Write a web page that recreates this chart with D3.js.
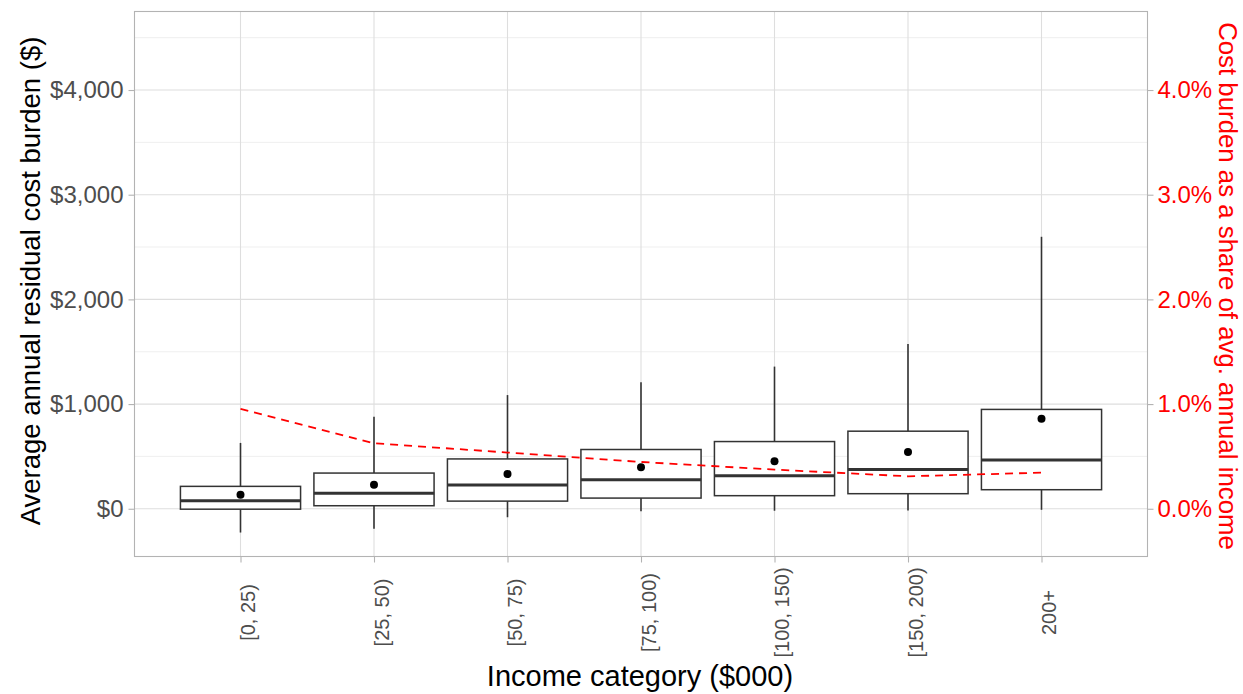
<!DOCTYPE html>
<html>
<head>
<meta charset="utf-8">
<script src="https://cdn.jsdelivr.net/npm/d3@7"></script>
<style>
  html, body { margin: 0; padding: 0; background: #fff; }
  svg { display: block; font-family: "Liberation Sans", Arial, sans-serif; }
</style>
</head>
<body>
<svg id="chart" width="1243" height="694"></svg>
<script>
const categories = ["[0, 25)", "[25, 50)", "[50, 75)", "[75, 100)", "[100, 150)", "[150, 200)", "200+"];
const whiskerLow  = [-227, -192, -81, -23, -19, -16, -10];
const q1          = [-4, 29, 73, 102, 125, 144, 182];
const medianVals  = [77, 147, 226, 278, 316, 374, 466];
const q3          = [214, 341, 476, 566, 642, 741, 949];
const whiskerHigh = [629, 878, 1086, 1208, 1358, 1575, 2598];
const meanVals    = [134, 230, 332, 396, 453, 543, 859];
const sharePct    = [0.955, 0.626, 0.537, 0.447, 0.374, 0.310, 0.345];
const leftTicks   = [0, 1000, 2000, 3000, 4000];
const minorTicks  = [500, 1500, 2500, 3500, 4500];
const rightTicks  = [0, 1, 2, 3, 4];

const svg = d3.select("#chart");
const panel = {left: 134.5, right: 1147.5, top: 11.5, bottom: 556.5};

const x = d3.scaleLinear().domain([0.206, 7.794]).range([panel.left, panel.right]);
const y = d3.scaleLinear().domain([-456, 4750]).range([panel.bottom, panel.top]);
const yR = d3.scaleLinear().domain([-0.456, 4.75]).range([panel.bottom, panel.top]);

const rows = categories.map((c, i) => ({
  c, i: i + 1, lo: whiskerLow[i], q1: q1[i], med: medianVals[i], q3: q3[i],
  hi: whiskerHigh[i], mean: meanVals[i], share: sharePct[i]
}));

// grid
const g = svg.append("g");
g.selectAll(".minor").data(minorTicks).join("line")
  .attr("x1", panel.left).attr("x2", panel.right)
  .attr("y1", d => y(d)).attr("y2", d => y(d))
  .attr("stroke", "#EBEBEB").attr("stroke-width", 0.8);
g.selectAll(".major").data(leftTicks).join("line")
  .attr("x1", panel.left).attr("x2", panel.right)
  .attr("y1", d => y(d)).attr("y2", d => y(d))
  .attr("stroke", "#DEDEDE").attr("stroke-width", 1.1);
g.selectAll(".vmajor").data(rows).join("line")
  .attr("x1", d => x(d.i)).attr("x2", d => x(d.i))
  .attr("y1", panel.top).attr("y2", panel.bottom)
  .attr("stroke", "#DEDEDE").attr("stroke-width", 1.1);

// boxes
const boxW = 0.9;
const bx = svg.append("g");
bx.selectAll(".wh").data(rows).join("line")
  .attr("x1", d => x(d.i)).attr("x2", d => x(d.i))
  .attr("y1", d => y(d.hi)).attr("y2", d => y(d.q3))
  .attr("stroke", "#333333").attr("stroke-width", 1.6);
bx.selectAll(".wl").data(rows).join("line")
  .attr("x1", d => x(d.i)).attr("x2", d => x(d.i))
  .attr("y1", d => y(d.q1)).attr("y2", d => y(d.lo))
  .attr("stroke", "#333333").attr("stroke-width", 1.6);
bx.selectAll(".box").data(rows).join("rect")
  .attr("x", d => x(d.i - boxW / 2)).attr("width", d => x(d.i + boxW / 2) - x(d.i - boxW / 2))
  .attr("y", d => y(d.q3)).attr("height", d => y(d.q1) - y(d.q3))
  .attr("fill", "#fff").attr("stroke", "#333333").attr("stroke-width", 1.5);
bx.selectAll(".med").data(rows).join("line")
  .attr("x1", d => x(d.i - boxW / 2)).attr("x2", d => x(d.i + boxW / 2))
  .attr("y1", d => y(d.med)).attr("y2", d => y(d.med))
  .attr("stroke", "#333333").attr("stroke-width", 3);
bx.selectAll(".mean").data(rows).join("circle")
  .attr("cx", d => x(d.i)).attr("cy", d => y(d.mean)).attr("r", 4)
  .attr("fill", "#000");

// red dashed share line
const line = d3.line().x(d => x(d.i)).y(d => yR(d.share));
svg.append("path").datum(rows).attr("d", line)
  .attr("fill", "none").attr("stroke", "#FF0000").attr("stroke-width", 1.8)
  .attr("stroke-dasharray", "8,6");

// panel border
svg.append("rect").attr("x", panel.left).attr("y", panel.top)
  .attr("width", panel.right - panel.left).attr("height", panel.bottom - panel.top)
  .attr("fill", "none").attr("stroke", "#B3B3B3").attr("stroke-width", 1.1);

// left axis
const yAxis = d3.axisLeft(y).tickValues(leftTicks).tickSize(6).tickPadding(5)
  .tickFormat(d => (d < 0 ? "-$" : "$") + d3.format(",")(Math.abs(d)));
const ga = svg.append("g").attr("transform", `translate(${panel.left},0)`).call(yAxis);
ga.select(".domain").remove();
ga.selectAll(".tick line").attr("stroke", "#B3B3B3").attr("stroke-width", 1.1);
ga.selectAll(".tick text").attr("fill", "#4D4D4D").style("font-size", "24px")
  .attr("font-family", "Liberation Sans, Arial, sans-serif");

// right axis
const yAxisR = d3.axisRight(yR).tickValues(rightTicks).tickSize(6).tickPadding(4)
  .tickFormat(d => d3.format(".1f")(d) + "%");
const gr = svg.append("g").attr("transform", `translate(${panel.right},0)`).call(yAxisR);
gr.select(".domain").remove();
gr.selectAll(".tick line").attr("stroke", "#B3B3B3").attr("stroke-width", 1.1);
gr.selectAll(".tick text").attr("fill", "#FF0000").style("font-size", "24px")
  .attr("font-family", "Liberation Sans, Arial, sans-serif");

// bottom axis
const xAxis = d3.axisBottom(x).tickValues(rows.map(d => d.i)).tickSize(6)
  .tickFormat(d => categories[d - 1]);
const gx = svg.append("g").attr("transform", `translate(0,${panel.bottom})`).call(xAxis);
gx.select(".domain").remove();
gx.selectAll(".tick line").attr("stroke", "#B3B3B3").attr("stroke-width", 1.1);
gx.selectAll(".tick text")
  .attr("fill", "#4D4D4D").style("font-size", "20px")
  .attr("font-family", "Liberation Sans, Arial, sans-serif")
  .attr("text-anchor", "middle")
  .attr("transform", "translate(0,56) rotate(-90)")
  .attr("x", 0).attr("y", 0).attr("dy", "0.71em");

// titles
svg.append("text").attr("transform", "translate(640,686)")
  .attr("text-anchor", "middle").style("font-size", "29px").attr("fill", "#000")
  .text("Income category ($000)");
svg.append("text").attr("transform", `translate(40,281) rotate(-90)`)
  .attr("text-anchor", "middle").style("font-size", "27.5px").attr("fill", "#000")
  .text("Average annual residual cost burden ($)");
svg.append("text").attr("transform", `translate(1219,286) rotate(90)`)
  .attr("text-anchor", "middle").style("font-size", "25.8px").attr("fill", "#FF0000")
  .text("Cost burden as a share of avg. annual income");
</script>
</body>
</html>
